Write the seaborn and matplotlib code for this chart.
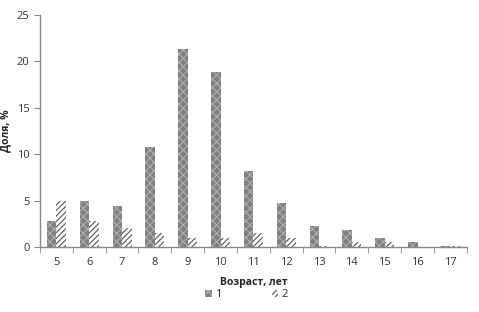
import numpy as np
import pandas as pd
import seaborn as sns
import matplotlib.pyplot as plt
from matplotlib.patches import Patch

ages = ["5", "6", "7", "8", "9", "10", "11", "12", "13", "14", "15", "16", "17"]
series1 = [2.8, 5.0, 4.4, 10.8, 21.3, 18.9, 8.2, 4.7, 2.3, 1.8, 1.0, 0.5, 0.1]
series2 = [5.0, 2.8, 2.1, 1.5, 1.0, 1.0, 1.5, 1.0, 0.1, 0.5, 0.5, 0.0, 0.1]

df = pd.DataFrame({
    "age": ages * 2,
    "value": series1 + series2,
    "group": ["1"] * len(ages) + ["2"] * len(ages),
})

sns.set_style("white")
plt.rcParams["font.family"] = ["Open Sans", "DejaVu Sans"]
plt.rcParams["hatch.linewidth"] = 0.8

fig = plt.figure(figsize=(4.79, 3.12), dpi=100)
ax = fig.add_axes([0.0835, 0.208, 0.891, 0.744])

sns.barplot(data=df, x="age", y="value", hue="group", order=ages,
            hue_order=["1", "2"], width=0.58, ax=ax, legend=False)

n = len(ages)
for i, bar in enumerate(ax.patches):
    if i < n:
        bar.set_facecolor("#808080")
        bar.set_edgecolor("#b0b0b0")
        bar.set_hatch("xxxx")
        bar.set_linewidth(0)
    else:
        bar.set_facecolor("white")
        bar.set_edgecolor("#555555")
        bar.set_hatch("//////")
        bar.set_linewidth(0)

ax.set_xlim(-0.5, n - 0.5)
ax.set_ylim(0, 25)
ax.set_yticks([0, 5, 10, 15, 20, 25])
ax.set_xticks(np.arange(-0.5, n, 1.0), minor=True)
ax.tick_params(axis="x", which="major", length=0, labelsize=8, pad=7, colors="#333333")
ax.tick_params(axis="x", which="minor", length=4, direction="out", color="#888888", bottom=True)
ax.tick_params(axis="y", length=4, direction="out", labelsize=8, colors="#333333", left=True)
ax.tick_params(axis="y", color="#888888")

for s in ["top", "right"]:
    ax.spines[s].set_visible(False)
for s in ["left", "bottom"]:
    ax.spines[s].set_color("#888888")
    ax.spines[s].set_linewidth(1.0)

ax.set_xlabel("Возраст, лет", fontsize=7.5, fontweight="bold")
ax.set_ylabel("Доля, %", fontsize=7.5, fontweight="bold")
ax.xaxis.set_label_coords(0.50, -0.13)
ax.yaxis.set_label_coords(-0.068, 0.5)

handles = [
    Patch(facecolor="#808080", edgecolor="#b0b0b0", hatch="xxxx", linewidth=0, label="1"),
    Patch(facecolor="white", edgecolor="#555555", hatch="//////", linewidth=0, label="2"),
]
fig.legend(handles=handles, loc="center", bbox_to_anchor=(0.515, 0.055), ncol=2,
           frameon=False, fontsize=8, handlelength=0.6, handleheight=0.6,
           columnspacing=4.5, handletextpad=0.3)

fig.savefig("out.png", dpi=100)
